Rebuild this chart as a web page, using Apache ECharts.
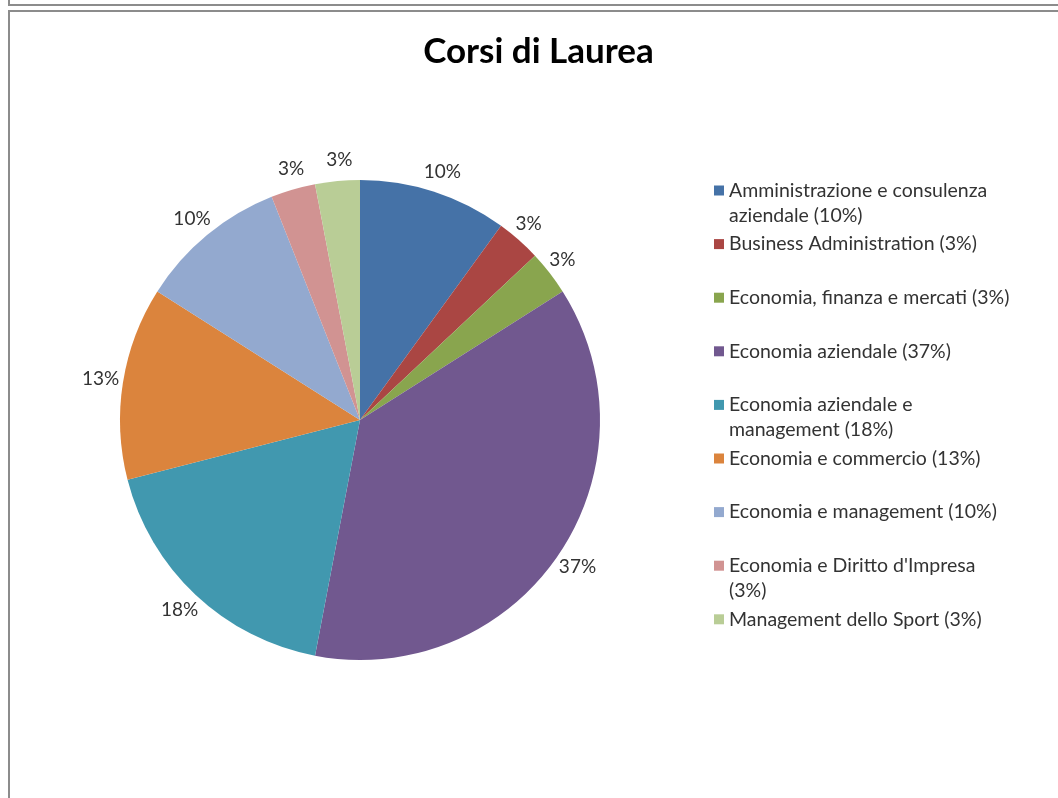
<!DOCTYPE html>
<html>
<head>
<meta charset="utf-8">
<script src="https://cdn.jsdelivr.net/npm/echarts@6/dist/echarts.min.js"></script>
<style>
  html, body { margin: 0; padding: 0; width: 1058px; height: 798px; overflow: hidden; background: #fff; }
  .top-box { position: absolute; left: 8px; top: -10px; width: 1100px; height: 14px; border-left: 2px solid #8c8c8c; border-bottom: 2px solid #8c8c8c; }
  .frame { position: absolute; left: 8px; top: 10px; width: 1100px; height: 820px; border-left: 2px solid #8c8c8c; border-top: 2px solid #8c8c8c; }
  #chart { position: absolute; left: 10px; top: 0; width: 1057px; height: 798px; }
</style>
</head>
<body>
<div class="top-box"></div>
<div class="frame"></div>
<div id="chart"></div>
<script>
  const categories = [
    "Amministrazione e consulenza aziendale",
    "Business Administration",
    "Economia, finanza e mercati",
    "Economia aziendale",
    "Economia aziendale e management",
    "Economia e commercio",
    "Economia e management",
    "Economia e Diritto d'Impresa",
    "Management dello Sport"
  ];
  const values = [10, 3, 3, 37, 18, 13, 10, 3, 3];
  const colors = ["#4572A7", "#AA4643", "#89A54E", "#71588F", "#4198AF", "#DB843D", "#93A9CF", "#D19392", "#B9CD96"];

  // where the legend text wraps in the original
  const legendWrap = {
    "Amministrazione e consulenza aziendale": "Amministrazione e consulenza\naziendale ",
    "Economia aziendale e management": "Economia aziendale e\nmanagement ",
    "Economia e Diritto d'Impresa": "Economia e Diritto d'Impresa\n"
  };

  const total = values.reduce((a, b) => a + b, 0);
  const font = "Lato, 'Noto Sans', sans-serif";

  // square sitting next to the first of two text lines (box is 10 x 50)
  const legendIcon = "path://M0,0L0,0M10,50L10,50M0,7.5H10V17.5H0Z";

  const chart = echarts.init(document.getElementById("chart"));
  chart.setOption({
    animation: false,
    color: colors,
    title: {
      text: "Corsi di Laurea",
      left: "center",
      top: 29,
      textStyle: { fontFamily: font, fontSize: 35, fontWeight: "bold", color: "#000" }
    },
    legend: {
      orient: "vertical",
      left: 704,
      top: 178,
      padding: 0,
      itemGap: 3.6,
      itemWidth: 10,
      itemHeight: 50,
      icon: legendIcon,
      itemStyle: { borderWidth: 0 },
      textStyle: { fontFamily: font, fontSize: 19.5, color: "#333", lineHeight: 25 },
      formatter: function (name) {
        const pct = Math.round(values[categories.indexOf(name)] / total * 100);
        const base = legendWrap[name] || (name + " ");
        const text = base + "(" + pct + "%)";
        return text.indexOf("\n") >= 0 ? text : text + "\n ";
      }
    },
    series: [{
      type: "pie",
      center: [350, 420],
      radius: 240,
      startAngle: 90,
      avoidLabelOverlap: false,
      itemStyle: { borderWidth: 0 },
      label: {
        position: "outside",
        formatter: "{d}%",
        fontFamily: font,
        fontSize: 19,
        color: "#333",
        distanceToLabelLine: -17
      },
      labelLine: { show: false, length: 21, length2: 0 },
      data: categories.map((c, i) => ({ name: c, value: values[i] }))
    }]
  });
</script>
</body>
</html>
